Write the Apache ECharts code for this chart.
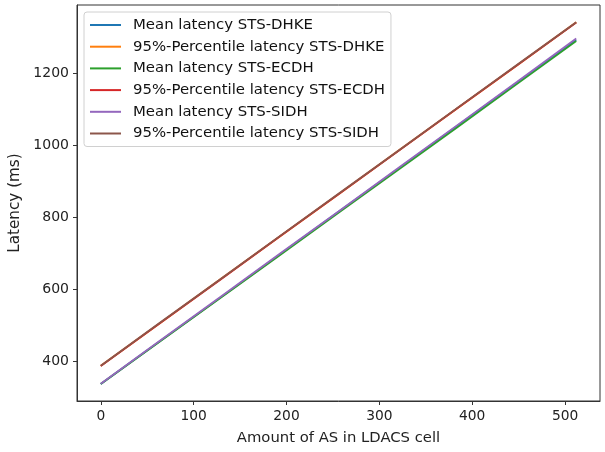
<!DOCTYPE html>
<html>
<head>
<meta charset="utf-8">
<script src="https://cdn.jsdelivr.net/npm/echarts@6/dist/echarts.min.js"></script>
<style>
  html, body { margin: 0; padding: 0; background: #fff; }
  #main { width: 605px; height: 452px; }
</style>
</head>
<body>
<div id="main"></div>
<script>
// number of AS in the cell
var asCount = [0, 64, 128, 192, 256, 320, 384, 448, 512];

// latencies in ms
var meanDhke = [336, 456, 575, 695, 815, 934, 1054, 1174, 1293];
var p95Dhke  = [387, 506, 626, 745, 864, 984, 1103, 1222, 1342];
var meanEcdh = [336, 455, 574, 693, 812, 931, 1050, 1170, 1290];
var p95Ecdh  = [386, 506, 625, 745, 864, 983, 1103, 1222, 1341];
var meanSidh = [337, 457, 577, 697, 816, 936, 1056, 1176, 1297];
var p95Sidh  = [387, 507, 626, 746, 865, 984, 1104, 1223, 1342];

var xTicks = [0, 100, 200, 300, 400, 500];
var yTicks = [400, 600, 800, 1000, 1200];

var seriesDefs = [
  { name: 'Mean latency STS-DHKE', data: meanDhke, color: '#1f77b4' },
  { name: '95%-Percentile latency STS-DHKE', data: p95Dhke, color: '#ff7f0e' },
  { name: 'Mean latency STS-ECDH', data: meanEcdh, color: '#2ca02c' },
  { name: '95%-Percentile latency STS-ECDH', data: p95Ecdh, color: '#d62728' },
  { name: 'Mean latency STS-SIDH', data: meanSidh, color: '#9467bd' },
  { name: '95%-Percentile latency STS-SIDH', data: p95Sidh, color: '#8c564b' }
];

function pairs(arr) {
  var out = [];
  for (var i = 0; i < arr.length; i++) {
    out.push([asCount[i], arr[i]]);
  }
  return out;
}

var chart = echarts.init(document.getElementById('main'), null, { renderer: 'canvas' });

var font = 'DejaVu Sans';
var axisColor = '#333';
var plain = function(v) { return String(v); };

chart.setOption({
  animation: false,
  backgroundColor: '#fff',
  grid: {
    left: 77, right: 5, top: 5, bottom: 51,
    outerBoundsMode: 'none',
    show: true, borderColor: axisColor, borderWidth: 1
  },
  legend: {
    orient: 'vertical',
    left: 84,
    top: 12,
    padding: [5, 6, 5, 6],
    itemWidth: 31,
    itemHeight: 2,
    itemGap: 5.7,
    icon: 'rect',
    backgroundColor: 'rgba(255,255,255,0.85)',
    borderColor: '#d0d0d0',
    borderWidth: 1,
    borderRadius: 3,
    textStyle: { fontFamily: font, fontSize: 14.9, color: '#111', lineHeight: 16, padding: [0, 0, 0, 7] },
    data: seriesDefs.map(function(s) { return s.name; })
  },
  xAxis: {
    type: 'value',
    min: -25.6,
    max: 537.6,
    name: 'Amount of AS in LDACS cell',
    nameLocation: 'middle',
    nameGap: 30,
    nameTextStyle: { fontFamily: font, fontSize: 14.8, color: '#222' },
    axisLine: { show: true, onZero: false, lineStyle: { color: axisColor } },
    axisTick: { show: true, length: 4, customValues: xTicks, lineStyle: { color: axisColor } },
    axisLabel: { customValues: xTicks, formatter: plain, fontFamily: font, fontSize: 13.8, color: '#222', margin: 8 },
    splitLine: { show: false }
  },
  yAxis: {
    type: 'value',
    min: 289,
    max: 1390,
    name: 'Latency (ms)',
    nameLocation: 'middle',
    nameGap: 54,
    nameTextStyle: { fontFamily: font, fontSize: 15.2, color: '#222' },
    axisLine: { show: true, onZero: false, lineStyle: { color: axisColor } },
    axisTick: { show: true, length: 4, customValues: yTicks, lineStyle: { color: axisColor } },
    axisLabel: { customValues: yTicks, formatter: plain, fontFamily: font, fontSize: 14, color: '#222', margin: 8 },
    splitLine: { show: false }
  },
  series: seriesDefs.map(function(s) {
    return {
      name: s.name,
      type: 'line',
      data: pairs(s.data),
      symbol: 'none',
      color: s.color,
      lineStyle: { width: 1.8, color: s.color }
    };
  })
});
</script>
</body>
</html>
